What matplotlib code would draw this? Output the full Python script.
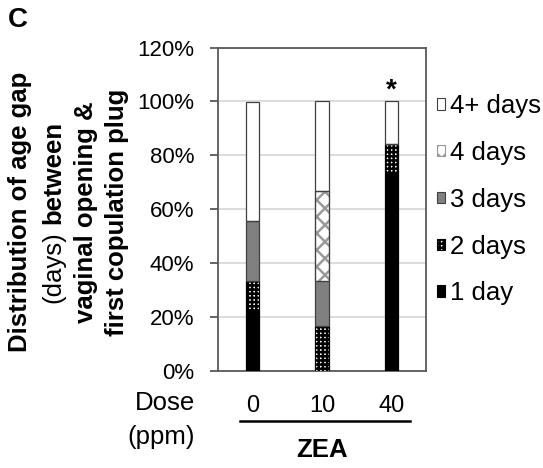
import numpy as np
import matplotlib.pyplot as plt
from matplotlib.patches import Patch
from matplotlib.lines import Line2D
import matplotlib.transforms as mtransforms

plt.rcParams['font.family'] = ['Liberation Sans', 'DejaVu Sans']
plt.rcParams['hatch.linewidth'] = 1.8

doses = ['0', '10', '40']
day1 = [22.2, 0.0, 73.7]
day2 = [11.1, 16.7, 10.5]
day3 = [22.2, 16.7, 0.0]
day4 = [0.0, 33.3, 0.0]
day4plus = [44.4, 33.3, 15.8]
yticks = [0, 20, 40, 60, 80, 100, 120]

series = [
    ('1 day', day1, dict(facecolor='black', edgecolor='black')),
    ('2 days', day2, dict(facecolor='white', edgecolor='black', hatch='++++')),
    ('3 days', day3, dict(facecolor='#808080', edgecolor='#404040')),
    ('4 days', day4, dict(facecolor='white', edgecolor='#9a9a9a', hatch='xx')),
    ('4+ days', day4plus, dict(facecolor='white', edgecolor='#404040')),
]

fig = plt.figure(figsize=(5.43, 4.68), dpi=100)
ax = fig.add_axes([0.4015, 0.2073, 0.3830, 0.6912])

x = np.arange(len(doses))
bottom = np.zeros(len(doses))
handles = []
for name, vals, style in series:
    ax.bar(x, vals, 0.19, bottom=bottom, linewidth=0.9, zorder=3, **style)
    if 'hatch' in style and style['edgecolor'] != 'black':
        # dark outline over the light hatch
        ax.bar(x, vals, 0.19, bottom=bottom, fill=False, edgecolor='#404040',
               linewidth=0.9, zorder=4)
    bottom += np.array(vals)
    handles.append(Patch(label=name, linewidth=0.8, **style))

ax.set_xlim(-0.5, 2.5)
ax.set_ylim(0, 120)
ax.set_yticks(yticks)
ax.set_yticklabels([f'{v}%' for v in yticks])
ax.yaxis.grid(True, color='#d9d9d9', linewidth=1.3, zorder=0)
ax.set_axisbelow(True)
for s in ax.spines.values():
    s.set_color('#595959')
    s.set_linewidth(1.3)
ax.tick_params(axis='y', labelsize=16, length=6, width=1.3, color='#595959', pad=11)
ax.set_xticks(x)
ax.set_xticklabels(doses)
ax.tick_params(axis='x', labelsize=17, length=0, pad=17)

ax.text(2, 104, '*', ha='center', va='center', fontsize=20, fontweight='bold')

# category group line and label
trans = mtransforms.blended_transform_factory(ax.transData, ax.transAxes)
ax.add_line(Line2D([-0.18, 2.27], [-0.154, -0.154], transform=trans, color='black',
                   linewidth=1.8, clip_on=False))
ax.text(1, -0.244, 'ZEA', transform=trans, ha='center', va='center',
        fontsize=18.5, fontweight='bold')

W, H = 543, 468
fig.text(195 / W, 1 - 403 / H, 'Dose', ha='right', va='center', fontsize=18.5)
fig.text(195 / W, 1 - 437 / H, '(ppm)', ha='right', va='center', fontsize=18.5)
fig.text(18 / W, 1 - 20 / H, 'C', ha='center', va='center', fontsize=20, fontweight='bold')

# y label, four lines, second line mixed weight
cy = 1 - 212 / H
fig.text(20 / W, cy, 'Distribution of age gap', rotation=90, ha='center', va='center',
         fontsize=18.5, fontweight='bold')
fig.text(86 / W, cy, 'vaginal opening &', rotation=90, ha='center', va='center',
         fontsize=18.5, fontweight='bold')
fig.text(117 / W, cy, 'first copulation plug', rotation=90, ha='center', va='center',
         fontsize=18.5, fontweight='bold')
r = fig.canvas.get_renderer()
t1 = fig.text(53 / W, 0, '(days)', rotation=90, ha='center', va='bottom', fontsize=18.5)
t2 = fig.text(53 / W, 0, 'between', rotation=90, ha='center', va='bottom', fontsize=18.5,
              fontweight='bold')
l1 = t1.get_window_extent(r).height
l2 = t2.get_window_extent(r).height
gap = 7
start = cy * H - (l1 + gap + l2) / 2
t1.set_y(start / H)
t2.set_y((start + l1 + gap) / H)

fig.legend(handles=handles[::-1], loc='upper left', bbox_to_anchor=(437 / W, 1 - 94 / H),
           frameon=False, fontsize=18.5, handlelength=0.32, handleheight=0.32,
           handletextpad=0.2, labelspacing=0.89, borderpad=0, borderaxespad=0)

fig.savefig('out.png', dpi=100)
